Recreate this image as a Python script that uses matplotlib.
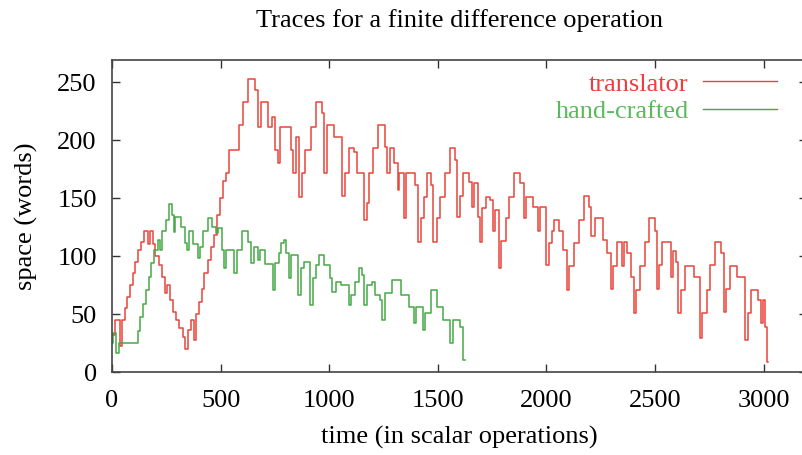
import matplotlib
matplotlib.use("Agg")
import matplotlib.pyplot as plt

plt.rcParams['font.family'] = ['Liberation Serif', 'DejaVu Serif']
plt.rcParams['font.size'] = 19

# translator trace: (time, words) at each change, drawn as steps
red_t = [0, 12, 35, 48, 58, 70, 82, 95, 108, 120, 135, 148, 165, 175, 188, 200,
         215, 230, 245, 255, 268, 282, 295, 310, 325, 338, 350, 365, 378, 388,
         400, 412, 425, 440, 455, 468, 485, 498, 510, 525, 540, 575, 585, 605,
         628, 660, 672, 685, 705, 720, 735, 752, 762, 775, 810, 825, 835, 845,
         862, 875, 890, 915, 940, 965, 978, 990, 1020, 1060, 1072, 1090, 1115,
         1130, 1160, 1172, 1185, 1200, 1225, 1255, 1268, 1280, 1300, 1315, 1322,
         1345, 1355, 1395, 1410, 1422, 1435, 1450, 1470, 1480, 1496, 1510, 1533,
         1555, 1580, 1590, 1600, 1618, 1645, 1658, 1668, 1685, 1692, 1705, 1722,
         1740, 1753, 1765, 1782, 1792, 1812, 1828, 1850, 1878, 1895, 1905, 1940,
         1962, 1972, 1998, 2010, 2025, 2035, 2058, 2078, 2094, 2106, 2125, 2150,
         2172, 2198, 2206, 2222, 2262, 2278, 2298, 2306, 2326, 2346, 2356, 2372,
         2388, 2402, 2414, 2432, 2452, 2474, 2498, 2508, 2520, 2532, 2572, 2582,
         2598, 2608, 2620, 2638, 2678, 2708, 2718, 2738, 2755, 2775, 2805, 2816,
         2828, 2846, 2876, 2914, 2926, 2942, 2972, 2986, 2998, 3008, 3014, 3020]
red_v = [32, 45, 22, 45, 55, 65, 75, 85, 95, 105, 112, 122, 110, 122, 110, 100,
         92, 82, 68, 75, 62, 52, 45, 38, 30, 20, 36, 45, 28, 50,
         60, 72, 85, 97, 108, 118, 135, 150, 165, 172, 191, 191, 213, 233,
         253, 243, 211, 233, 233, 211, 220, 191, 180, 211, 211, 191, 172, 203,
         151, 172, 191, 211, 233, 223, 172, 213, 203, 152, 172, 193, 190,
         172, 131, 146, 172, 193, 213, 194, 172, 193, 180, 157, 172,
         133, 172, 161, 112, 133, 151, 172, 161, 112, 133, 151, 172,
         193, 183, 134, 152, 172, 164, 142, 163, 134, 112, 141, 151,
         148, 122, 140, 90, 113, 133, 151, 172, 163, 133, 151, 142,
         122, 142, 92, 111, 122, 131, 122, 105, 71, 91, 111, 131,
         152, 142, 117, 133, 114, 103, 72, 91, 112, 91, 112, 103,
         82, 51, 71, 91, 112, 133, 122, 72, 92, 112, 82, 104,
         95, 51, 71, 91, 82, 29, 51, 71, 92, 112, 103, 52,
         72, 91, 82, 28, 51, 71, 62, 42, 62, 39, 9, 9]

# hand-crafted trace
green_t = [0, 5, 18, 30, 120, 130, 142, 155, 168, 180, 195, 210, 222, 232, 248,
           260, 275, 283, 292, 318, 335, 345, 355, 375, 395, 405, 420, 440, 462,
           478, 488, 505, 515, 525, 560, 575, 600, 625, 640, 652, 670, 680, 705,
           740, 750, 770, 780, 790, 800, 815, 825, 858, 870, 885, 910, 925, 940,
           955, 975, 1005, 1015, 1030, 1055, 1090, 1100, 1120, 1135, 1150, 1160,
           1172, 1195, 1210, 1235, 1245, 1255, 1290, 1330, 1365, 1390, 1400,
           1432, 1442, 1470, 1495, 1525, 1555, 1570, 1600, 1615, 1625]
green_v = [25, 34, 16, 25, 35, 47, 59, 71, 82, 94, 105, 114, 105, 122, 131,
           145, 135, 121, 134, 125, 111, 105, 122, 110, 98, 108, 122, 133, 125,
           120, 124, 105, 90, 105, 85, 105, 122, 112, 94, 108, 97, 105, 93,
           71, 94, 103, 111, 114, 103, 81, 101, 66, 90, 95, 58, 81, 92,
           101, 92, 81, 69, 78, 75, 58, 66, 78, 90, 84, 58,
           75, 78, 66, 62, 45, 68, 79, 66, 56, 42, 56,
           36, 51, 71, 56, 45, 25, 45, 39, 10, 10]

red = '#e8453a'
green = '#45a845'

fig = plt.figure(figsize=(8.02, 4.55), dpi=100)
ax = fig.add_axes([0.1397, 0.1824, 0.8666, 0.6857])

ax.plot(red_t, red_v, drawstyle='steps-post', color=red, lw=1.1, label='translator')
ax.plot(green_t, green_v, drawstyle='steps-post', color=green, lw=1.1, label='hand-crafted')

ax.set_xlim(0, 3200)
ax.set_ylim(0, 269)
ax.set_xticks(range(0, 3001, 500))
ax.set_yticks(range(0, 251, 50))
ax.tick_params(direction='in', top=True, right=True, length=6, width=1.0,
               color='#333333', labelsize=19)
ax.tick_params(axis='x', pad=13)
ax.tick_params(axis='y', pad=11)
for s in ax.spines.values():
    s.set_linewidth(1.2)
    s.set_color('#444444')

ax.set_title('Traces for a finite difference operation', fontsize=19, pad=24)
ax.set_xlabel('time (in scalar operations)', fontsize=19, labelpad=10)
ax.set_ylabel('space (words)', fontsize=19, labelpad=14)

leg = ax.legend(loc='upper right', bbox_to_anchor=(0.972, 0.995), frameon=False,
                markerfirst=False, handlelength=2.8, handletextpad=0.55,
                labelspacing=0.15, borderaxespad=0, fontsize=19)
for txt, c in zip(leg.get_texts(), ['#f03c3c', '#5cb85c']):
    txt.set_color(c)
for h in leg.get_lines():
    h.set_linewidth(1.0)

fig.savefig('out.png', dpi=100)
